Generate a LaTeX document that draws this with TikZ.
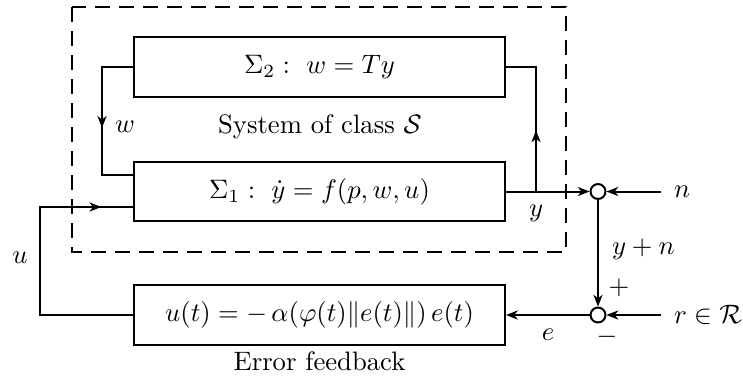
\documentclass[tikz,border=0pt]{standalone}
\usepackage{amsmath,amssymb}
\usetikzlibrary{arrows.meta,decorations.markings}
\tikzset{
  px/.style={x=0.375pt,y=-0.375pt},
  line/.style={line width=0.75pt},
  tip/.tip={Stealth[length=4.4pt,width=3.4pt,inset=1.3pt]},
  blk/.style={draw,line width=0.75pt,minimum width=139.1pt,minimum height=22.3pt,inner sep=0pt},
  sumpt/.style={draw,circle,line width=0.75pt,minimum size=5.6pt,inner sep=0pt},
  lbl/.style={inner sep=0pt},
  midarrow/.style={postaction=decorate,decoration={markings,mark=at position #1 with {\arrow{tip}}}},
  dashbox/.style={draw,line width=0.75pt,dash pattern=on 5.6pt off 3.4pt}
}
\begin{document}
\begin{tikzpicture}[px,line]
\useasboundingbox (0,0) rectangle (743,378);
% dashed system box
\draw[dashbox] (72,7) rectangle (566,252);
% blocks
\node[blk] (s2) at (319.5,67) {$\Sigma_2:\ w = Ty$};
\node[blk] (s1) at (319.5,191.5) {$\Sigma_1:\ \dot{y} = f(p,w,u)$};
\node[blk] (fb) at (319.5,315) {$u(t) = -\,\alpha(\varphi(t)\|e(t)\|)\,e(t)$};
\node[lbl] (cls) at (320,127) {System of class $\mathcal{S}$};
\node[lbl,anchor=north] (eft) at (319.5,351) {Error feedback};
% summing points
\node[sumpt] (c1) at (598,191.5) {};
\node[sumpt] (c2) at (598,315) {};
% coordinates
\coordinate (wtop) at (102,67);
\coordinate (wbot) at (102,175);
\coordinate (ubot) at (40,315);
\coordinate (utop) at (40,207);
\coordinate (yb) at (536,191.5);
\coordinate (ytop) at (536,67);
\coordinate (nin) at (661,191.5);
\coordinate (rin) at (661,315);
% w connector
\draw[midarrow=0.54] (s2.west) -- (wtop) -- (wbot) -- (s1.west |- wbot);
% u connector
\draw[midarrow=0.892] (fb.west) -- (ubot) -- (utop) -- (s1.west |- utop);
% y connectors
\draw[-tip] (s1.east) -- (c1.west);
\draw[midarrow=0.395] (yb) -- (ytop) -- (s2.east);
\draw[-tip] (nin) -- (c1.east);
\draw[-tip] (c1.south) -- (c2.north);
\draw[-tip] (rin) -- (c2.east);
\draw[-tip] (c2.west) -- (fb.east);
% labels
\node[lbl] (lw) at (125,127) {$w$};
\node[lbl] (lu) at (20,258) {$u$};
\node[lbl] (ly) at (536,213) {$y$};
\node[lbl] (le) at (548,335) {$e$};
\node[lbl,anchor=west] (ln) at (673,191.5) {$n$};
\node[lbl,anchor=west] (lr) at (673,315) {$r\in\mathcal{R}$};
\node[lbl,anchor=west] (lyn) at (611,249) {$y+n$};
\node[lbl] (lp) at (619,288) {$+$};
\node[lbl] (lm) at (607,337) {$-$};
\end{tikzpicture}
\end{document}
